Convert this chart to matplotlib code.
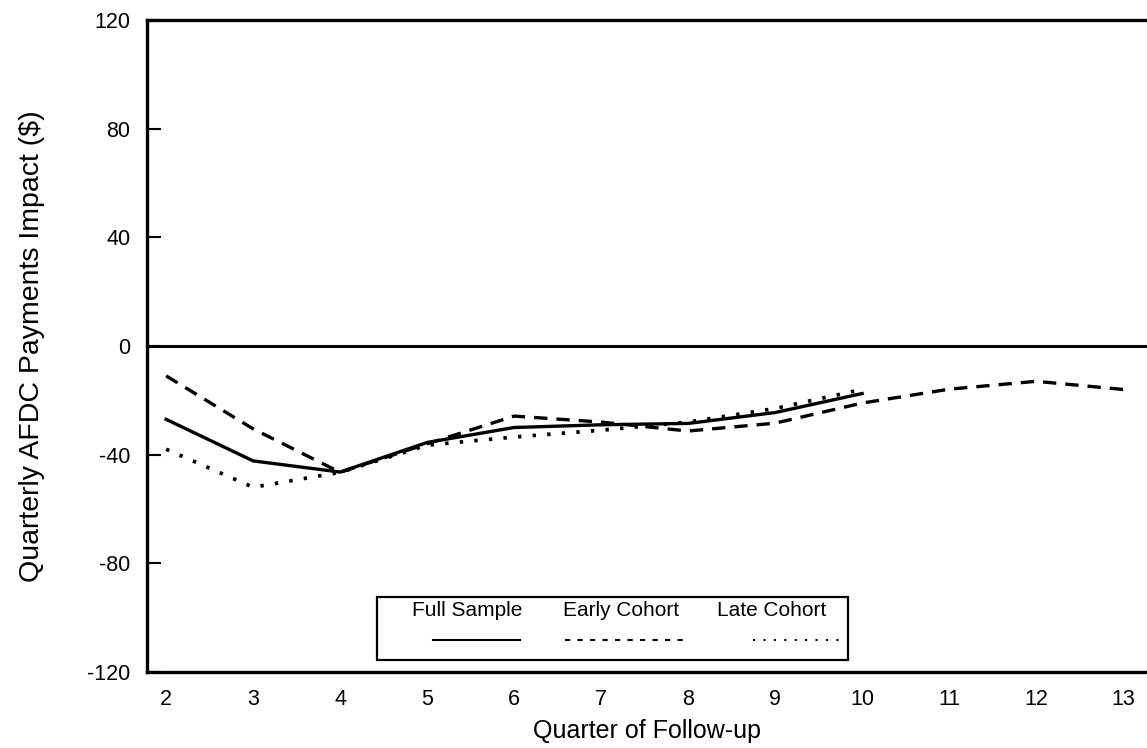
import matplotlib
matplotlib.use("Agg")
import matplotlib.pyplot as plt
from matplotlib.patches import Rectangle

plt.rcParams['font.family'] = ['Liberation Sans', 'DejaVu Sans']
plt.rcParams['axes.unicode_minus'] = False

quarters_full = [2, 3, 4, 5, 6, 7, 8, 9, 10]
full_sample = [-27, -42.3, -46.4, -35.5, -30, -29, -28.5, -24.5, -17.5]
quarters_early = [2, 3, 4, 5, 6, 7, 8, 9, 10, 11, 12, 13]
early_cohort = [-11, -30.5, -46.5, -36, -25.8, -28, -31.3, -28.4, -21, -15.9, -13, -16]
quarters_late = [2, 3, 4, 5, 6, 7, 8, 9, 10]
late_cohort = [-38, -52, -46.5, -36.5, -33.5, -31, -28, -23, -16]
x_ticks = list(range(2, 14))
y_ticks = [-120, -80, -40, 0, 40, 80, 120]
legend_labels = ["Full Sample", "Early Cohort", "Late Cohort"]

fig = plt.figure(figsize=(11.47, 7.48), dpi=100)
ax = fig.add_axes([147/1147, 1-672/748, 1000/1147, 652/748])

dash = (0, (4, 2.7))
dot = (0, (0.9, 3.0))
ax.plot(quarters_full, full_sample, color='black', lw=2.4, ls='-')
ax.plot(quarters_early, early_cohort, color='black', lw=2.4, ls=dash)
ax.plot(quarters_late, late_cohort, color='black', lw=2.7, ls=dot)
ax.axhline(0, color='black', lw=2.2)

ax.set_xlim(1.78, 1.78 + 1000/87)
ax.set_ylim(-120, 120)
ax.set_xticks(x_ticks)
ax.set_yticks(y_ticks)
ax.tick_params(axis='x', length=0, pad=12, labelsize=15.5)
ax.tick_params(axis='y', direction='in', length=10, width=1.5, pad=12, labelsize=15.5)
for s in ['left', 'bottom', 'top']:
    ax.spines[s].set_linewidth(2.4)
ax.spines['right'].set_visible(False)

ax.set_xlabel("Quarter of Follow-up", fontsize=18, labelpad=7)
ax.set_ylabel("Quarterly AFDC Payments Impact ($)", fontsize=20.5, labelpad=30)

# custom legend box
ax.add_patch(Rectangle((0.23, 0.018), 0.471, 0.097, transform=ax.transAxes,
                       fill=False, edgecolor='black', lw=1.6))
text_x = [0.32, 0.474, 0.625]
line_x = [(0.286, 0.373), (0.418, 0.536), (0.606, 0.695)]
styles = ['-', (0, (2.5, 3.5)), (0, (1, 4))]
for lab, tx, (x0, x1), st in zip(legend_labels, text_x, line_x, styles):
    ax.text(tx, 0.094, lab, transform=ax.transAxes, ha='center', va='center', fontsize=15)
    ax.plot([x0, x1], [0.049, 0.049], transform=ax.transAxes, color='black', lw=1.5, ls=st)

fig.savefig("out.png", dpi=100)
